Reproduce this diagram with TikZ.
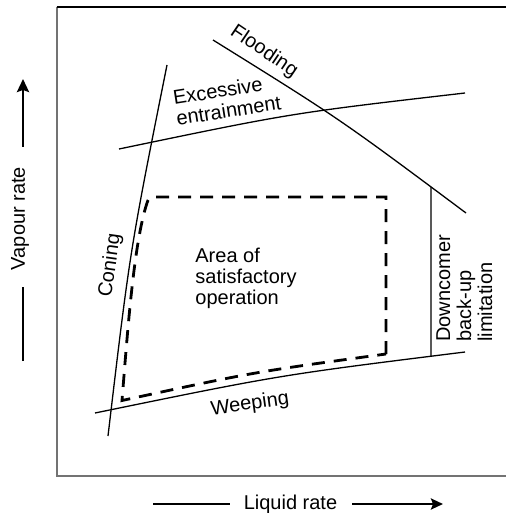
\documentclass[tikz,border=0pt]{standalone}
\usepackage{fontspec}
\setmainfont{Liberation Sans}
\usetikzlibrary{arrows.meta,intersections}
\begin{document}
\begin{tikzpicture}[x=0.5pt,y=-0.5pt,
  lbl/.style={inner sep=0pt,font=\fontsize{10}{10.5}\selectfont},
  curveline/.style={line width=0.65pt,black},
  dashline/.style={line width=1.4pt,black,dash pattern=on 6.5pt off 4.5pt},
  axisline/.style={line width=1.3pt,black},
  framegray/.style={line width=0.9pt,black!55},
  frametop/.style={line width=0.7pt,black}]
\useasboundingbox (0,0) rectangle (505,513);
% frame
\draw[framegray] (57,7) -- (57,476) -- (512,476);
\draw[frametop] (56.6,7) -- (512,7);
% limit curves
\draw[curveline,name path=flood] (213,40) .. controls (340,119) .. (466,213);
\draw[curveline,name path=entr] (119,149) .. controls (292,113) .. (465,93);
\draw[curveline,name path=cone] (167,65) .. controls (130,250) .. (108,436);
\draw[curveline,name path=weep] (95,413) .. controls (280,375) .. (465,352);
\path[name path=vert] (431,150) -- (431,420);
\draw[curveline,name intersections={of=flood and vert,name=fa},
      name intersections={of=weep and vert,name=wa}] (fa-1) -- (wa-1);
% area of satisfactory operation
\draw[dashline] (386,354) -- (386,197) -- (153,197)
   .. controls (149.5,197) and (148,199.5) .. (147,203)
   .. controls (133.8,243) and (127.6,331) .. (122,400.5)
   .. controls (254,372) .. (386,354);
% labels
\node[lbl,rotate=-34] (floodlbl) at (264,51.5) {Flooding};
\node[lbl,rotate=9,align=left] (entrlbl) at (227,100) {Excessive\\entrainment};
\node[lbl,rotate=82] (conelbl) at (110.5,265.5) {Coning};
\node[lbl,align=left,anchor=north west] (arealbl) at (195,248) {Area of\\satisfactory\\operation};
\node[lbl,rotate=90,align=left,anchor=north west] (downlbl) at (436,342) {Downcomer\\back-up\\limitation};
\node[lbl,rotate=8] (weeplbl) at (250,404.5) {Weeping};
\node[lbl,rotate=90] (vaplbl) at (20,218.5) {Vapour rate};
\node[lbl,anchor=base] (liqlbl) at (290.5,509.3) {Liquid rate};
% axis arrows
\coordinate (va) at (23,361); \coordinate (vb) at (23,287);
\coordinate (vc) at (23,147); \coordinate (vd) at (23,79);
\coordinate (ha) at (153,504); \coordinate (hb) at (230,504);
\coordinate (hc) at (352,504); \coordinate (hd) at (443,504);
\draw[axisline] (va) -- (vb);
\draw[axisline,-{Stealth[length=6.5pt,width=6pt,inset=1pt]}] (vc) -- (vd);
\draw[axisline] (ha) -- (hb);
\draw[axisline,-{Stealth[length=6pt,width=5.5pt,inset=1pt]}] (hc) -- (hd);
\end{tikzpicture}
\end{document}
